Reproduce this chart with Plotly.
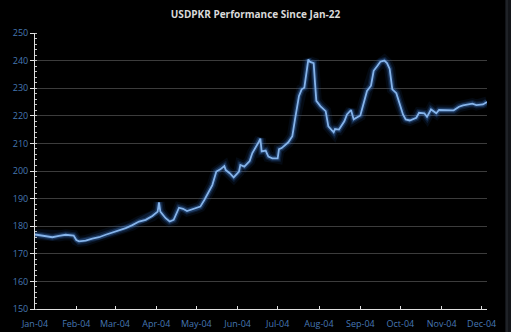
import plotly.graph_objects as go

dates = [
    "2004-01-01", "2004-01-06", "2004-01-14", "2004-01-19", "2004-01-24", "2004-01-30",
    "2004-02-01", "2004-02-03", "2004-02-08", "2004-02-13", "2004-02-18", "2004-02-23", "2004-02-28",
    "2004-03-04", "2004-03-09", "2004-03-14", "2004-03-19", "2004-03-24", "2004-03-29",
    "2004-04-02", "2004-04-03", "2004-04-04", "2004-04-08", "2004-04-11", "2004-04-14",
    "2004-04-18", "2004-04-21", "2004-04-24",
    "2004-05-01", "2004-05-04", "2004-05-07", "2004-05-11", "2004-05-13", "2004-05-16",
    "2004-05-19", "2004-05-22", "2004-05-23", "2004-05-26", "2004-05-29",
    "2004-06-02", "2004-06-03", "2004-06-06", "2004-06-10", "2004-06-12", "2004-06-15",
    "2004-06-17", "2004-06-18", "2004-06-19", "2004-06-22", "2004-06-24", "2004-06-27",
    "2004-07-01", "2004-07-02", "2004-07-04", "2004-07-09", "2004-07-12", "2004-07-14",
    "2004-07-16", "2004-07-17", "2004-07-19", "2004-07-21", "2004-07-23", "2004-07-24",
    "2004-07-25", "2004-07-28", "2004-07-29", "2004-07-30",
    "2004-08-02", "2004-08-06", "2004-08-08", "2004-08-12", "2004-08-13", "2004-08-16",
    "2004-08-20", "2004-08-22", "2004-08-25", "2004-08-27",
    "2004-09-01", "2004-09-04", "2004-09-06", "2004-09-09", "2004-09-11", "2004-09-14",
    "2004-09-16", "2004-09-19", "2004-09-21", "2004-09-23", "2004-09-25", "2004-09-28", "2004-09-30",
    "2004-10-03", "2004-10-05", "2004-10-08", "2004-10-13", "2004-10-15", "2004-10-19",
    "2004-10-21", "2004-10-24", "2004-10-28", "2004-10-30",
    "2004-11-04", "2004-11-10", "2004-11-14", "2004-11-17", "2004-11-24", "2004-11-27",
    "2004-12-02", "2004-12-05",
]

usdpkr = [
    177.0, 176.6, 176.0, 176.5, 176.9, 176.6,
    175.0, 174.5, 174.8, 175.5, 176.0, 176.9, 177.7,
    178.4, 179.3, 180.4, 181.7, 182.3, 183.7,
    185.3, 188.6, 185.3, 182.9, 181.7, 182.3,
    186.7, 186.3, 185.5,
    186.5, 187.1, 189.5, 193.1, 194.9, 199.8,
    200.6, 201.8, 200.4, 199.2, 197.7,
    199.8, 202.2, 201.6, 203.6, 206.5, 208.8,
    210.7, 211.7, 207.1, 207.4, 205.2, 204.6,
    204.6, 207.9, 208.3, 210.4, 212.6, 218.7,
    223.5, 227.2, 229.6, 230.2, 237.0, 240.4,
    239.6, 239.1, 232.0, 225.4,
    223.5, 221.7, 216.2, 214.0, 215.2, 215.0,
    218.0, 220.5, 222.1, 218.7,
    220.1, 225.4, 229.0, 230.9, 236.3, 238.2,
    239.6, 240.0, 239.1, 237.0, 229.6, 228.2, 224.8,
    220.5, 218.7, 218.3, 219.3, 221.1, 220.9,
    219.6, 222.3, 220.9, 222.1,
    222.0, 222.0, 223.3, 223.8, 224.4, 223.9,
    224.1, 225.0,
]

tick_dates = ["2004-01-01", "2004-02-01", "2004-03-01", "2004-04-01", "2004-05-01", "2004-06-01",
              "2004-07-01", "2004-08-01", "2004-09-01", "2004-10-01", "2004-11-01", "2004-12-01"]
tick_labels = ["Jan-04", "Feb-04", "Mar-04", "Apr-04", "May-04", "Jun-04",
               "Jul-04", "Aug-04", "Sep-04", "Oct-04", "Nov-04", "Dec-04"]

title_text = "USDPKR Performance Since Jan-22"

fig = go.Figure()

# glow layers
for w, c in [(11, "rgba(40,100,190,0.10)"), (7, "rgba(50,110,200,0.18)"), (4.5, "rgba(70,130,210,0.3)")]:
    fig.add_trace(go.Scatter(x=dates, y=usdpkr, mode="lines",
                             line=dict(color=c, width=w, shape="linear"),
                             hoverinfo="skip", showlegend=False))
fig.add_trace(go.Scatter(x=dates, y=usdpkr, mode="lines",
                         line=dict(color="#86b4ea", width=1.8),
                         showlegend=False, name="USDPKR"))

axis_font = dict(family="Open Sans, Liberation Sans, sans-serif", size=9, color="#4677b3")

fig.update_layout(
    width=511, height=332,
    paper_bgcolor="#000000", plot_bgcolor="#000000",
    margin=dict(l=35, r=24, t=33, b=23),
    title=dict(text="<b>" + title_text + "</b>", x=0.5, xanchor="center",
               y=1 - 14 / 332, yanchor="middle",
               font=dict(family="Open Sans, Liberation Sans, sans-serif", size=10, color="#d9d9d9")),
    xaxis=dict(
        type="date", range=["2004-01-01", "2004-12-05"],
        tickvals=tick_dates, ticktext=tick_labels,
        showgrid=False, zeroline=False,
        showline=True, linecolor="#e0e0e0", linewidth=1,
        ticks="inside", ticklen=3, tickcolor="#e0e0e0",
        ticklabelstandoff=6, automargin=False,
        tickfont=axis_font,
    ),
    yaxis=dict(
        range=[150, 250], dtick=10, tick0=150,
        showgrid=True, gridcolor="#3c3c3c", gridwidth=1,
        zeroline=False, automargin=False,
        showline=True, linecolor="#e0e0e0", linewidth=1,
        ticks="outside", ticklen=4, tickcolor="#e0e0e0",
        minor=dict(dtick=2, ticks="inside", ticklen=2, tickcolor="#c0c0c0", showgrid=False),
        tickfont=axis_font,
    ),
    shapes=[
        dict(type="rect", xref="paper", yref="paper", x0=(505 - 35) / 452, x1=(511 - 35) / 452,
             y0=-23 / 276, y1=1 + 33 / 276, fillcolor="#121418", line=dict(width=0), layer="below"),
        dict(type="line", xref="paper", yref="paper", x0=(507 - 35) / 452, x1=(507 - 35) / 452,
             y0=-23 / 276, y1=1 + 33 / 276, line=dict(color="#2c3036", width=1)),
    ],
)

fig.write_html("out.html")
